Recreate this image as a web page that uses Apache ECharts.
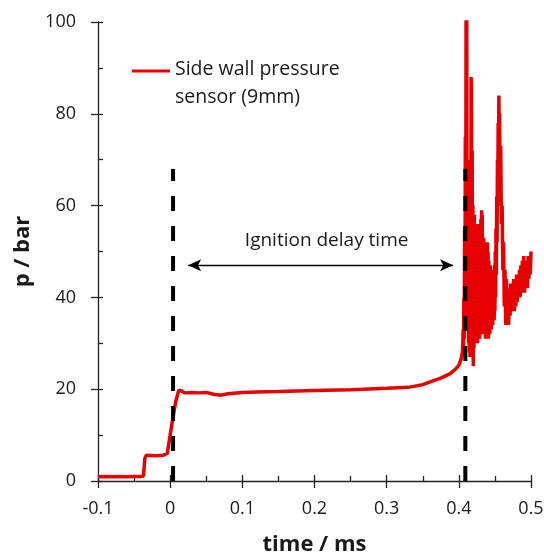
<!DOCTYPE html>
<html>
<head>
<meta charset="utf-8">
<script src="https://cdn.jsdelivr.net/npm/echarts@6/dist/echarts.min.js"></script>
<style>
  html, body { margin: 0; padding: 0; background: #fff; }
  #chart { width: 544px; height: 555px; }
</style>
</head>
<body>
<div id="chart"></div>
<script>
// time in ms, pressure in bar — before ignition
const timeMs = [
  -0.1, -0.09, -0.08, -0.07, -0.06, -0.05, -0.04, -0.037, -0.035, -0.033, -0.02, -0.01, -0.004,
  0.0, 0.004, 0.008, 0.012, 0.016, 0.02, 0.03, 0.04, 0.05, 0.06, 0.07, 0.08, 0.1, 0.12, 0.15,
  0.2, 0.25, 0.3, 0.33, 0.35, 0.364, 0.375, 0.388, 0.395, 0.4, 0.403
];
const pressureBar = [
  0.9, 1.0, 0.9, 1.0, 0.9, 1.0, 1.0, 1.1, 5.0, 5.6, 5.5, 5.6, 6.0,
  10, 14, 17.5, 19.8, 19.6, 19.2, 19.3, 19.2, 19.3, 18.9, 18.7, 19.0, 19.3, 19.4, 19.5,
  19.7, 19.9, 20.2, 20.4, 21.0, 21.8, 22.4, 23.4, 24.3, 25.2, 26.5
];
// ignition burst: [time ms, pressure bar]
const burstSamples = [
  [0.4050, 28], [0.4055, 30], [0.4060, 33], [0.4065, 29], [0.4070, 40], [0.4075, 31],
  [0.4080, 55], [0.4085, 34], [0.4090, 75], [0.4095, 36], [0.4100, 101], [0.4105, 45],
  [0.4110, 101], [0.4115, 38], [0.4120, 70], [0.4125, 33], [0.4130, 62], [0.4135, 30],
  [0.4140, 57], [0.4145, 28], [0.4150, 60], [0.4155, 27], [0.4160, 60], [0.4165, 30],
  [0.4170, 88], [0.4175, 86], [0.4180, 33], [0.4185, 72], [0.4190, 28], [0.4195, 60],
  [0.4200, 25], [0.4205, 55], [0.4210, 29], [0.4215, 58], [0.4220, 31], [0.4225, 52],
  [0.4230, 30], [0.4235, 55], [0.4240, 33], [0.4245, 50], [0.4250, 31], [0.4255, 53],
  [0.4260, 30], [0.4265, 56], [0.4270, 32], [0.4275, 54], [0.4280, 34], [0.4285, 49],
  [0.4290, 31], [0.4295, 52], [0.4300, 33], [0.4305, 57], [0.4310, 32], [0.4315, 59],
  [0.4320, 34], [0.4325, 58], [0.4330, 33], [0.4335, 51], [0.4340, 35], [0.4345, 53],
  [0.4350, 32], [0.4355, 49], [0.4360, 34], [0.4365, 52], [0.4370, 31], [0.4375, 50],
  [0.4380, 33], [0.4385, 47], [0.4390, 32], [0.4395, 52], [0.4400, 34], [0.4405, 50],
  [0.4410, 31], [0.4415, 48], [0.4420, 33], [0.4425, 46], [0.4430, 32], [0.4435, 47],
  [0.4440, 34], [0.4445, 45], [0.4450, 33], [0.4455, 46], [0.4460, 35], [0.4465, 44],
  [0.4470, 34], [0.4475, 46], [0.4480, 36], [0.4485, 45], [0.4490, 35], [0.4495, 47],
  [0.4500, 37], [0.4505, 50], [0.4510, 40], [0.4515, 55], [0.4520, 45], [0.4525, 62],
  [0.4530, 52], [0.4535, 70], [0.4540, 60], [0.4545, 78], [0.4550, 70], [0.4555, 84],
  [0.4560, 76], [0.4565, 80], [0.457, 66], [0.458, 73], [0.459, 56], [0.460, 60],
  [0.461, 46], [0.462, 52], [0.463, 38], [0.464, 46], [0.465, 34], [0.466, 44],
  [0.467, 36], [0.468, 41], [0.469, 34], [0.470, 42], [0.471, 36], [0.472, 43],
  [0.473, 37], [0.474, 41], [0.475, 38], [0.476, 44], [0.477, 37], [0.478, 43],
  [0.479, 38], [0.480, 45], [0.481, 39], [0.482, 44], [0.483, 40], [0.484, 46],
  [0.485, 40], [0.486, 47], [0.487, 41], [0.488, 48], [0.489, 42], [0.490, 49],
  [0.491, 41], [0.492, 46], [0.493, 43], [0.494, 48], [0.495, 42], [0.496, 49],
  [0.497, 44], [0.498, 48], [0.499, 45], [0.500, 50]
];
const seriesName = 'Side wall pressure sensor (9mm)';

// ignition markers (dashed lines) and delay arrow
const markerTimes = [0.004, 0.409];
const markerTop = 68;
const arrowFrom = 0.025;
const arrowTo = 0.392;
const arrowLevel = 47;

const xTicks = { min: -0.1, max: 0.5, interval: 0.1 };
const yTicks = { min: 0, max: 100, interval: 20 };

const font = '"Open Sans", "Noto Sans", sans-serif';
const ink = '#1a1a1a';
const axisInk = '#222';

const chart = echarts.init(document.getElementById('chart'));

const curve = timeMs.map((t, i) => [t, pressureBar[i]]).concat(burstSamples);

const markerSeries = markerTimes.map((t) => ({
  type: 'line',
  name: 'marker',
  data: [[t, 0], [t, markerTop]],
  symbol: 'none',
  silent: true,
  z: 3,
  lineStyle: { color: '#000', width: 4, type: [15, 15] },
}));

const tickStyle = { color: axisInk, width: 1.3 };

chart.setOption({
  animation: false,
  grid: { left: 98, right: 13, top: 22, bottom: 74, outerBoundsMode: 'none', containLabel: false },
  legend: {
    data: [seriesName],
    left: 127,
    top: 50,
    // line at the top of a tall box so it lines up with the first text line
    icon: 'path://M0,0L38,0L38,3L0,3Z M0,27L0.01,27L0.01,27.01Z',
    itemWidth: 38,
    itemHeight: 30,
    itemGap: 0,
    formatter: () => 'Side wall pressure\nsensor (9mm)',
    textStyle: {
      fontFamily: font,
      fontSize: 19.5,
      color: ink,
      lineHeight: 28,
    },
  },
  xAxis: [
    {
      type: 'value',
      min: xTicks.min,
      max: xTicks.max,
      interval: xTicks.interval,
      position: 'bottom',
      name: 'time / ms',
      nameLocation: 'middle',
      nameGap: 53,
      nameTextStyle: { fontFamily: font, fontSize: 22, fontWeight: 'bold', color: ink },
      axisLine: { onZero: false, lineStyle: { color: axisInk, width: 1.3 } },
      axisTick: { show: true, inside: false, length: 7, lineStyle: tickStyle },
      axisLabel: { fontFamily: font, fontSize: 18, color: ink, margin: 19 },
      splitLine: { show: false },
    },
    {
      type: 'value',
      min: xTicks.min,
      max: xTicks.max,
      interval: xTicks.interval,
      position: 'bottom',
      axisLine: { show: false, onZero: false },
      axisTick: { show: true, inside: true, length: 6, lineStyle: tickStyle },
      minorTick: { show: true, splitNumber: 2, length: 5, lineStyle: tickStyle },
      axisLabel: { show: false },
      splitLine: { show: false },
    },
  ],
  yAxis: [
    {
      type: 'value',
      min: yTicks.min,
      max: yTicks.max,
      interval: yTicks.interval,
      position: 'left',
      name: 'p / bar',
      nameLocation: 'middle',
      nameGap: 58,
      nameTextStyle: { fontFamily: font, fontSize: 22, fontWeight: 'bold', color: ink },
      axisLine: { show: true, onZero: false, lineStyle: { color: axisInk, width: 1.3 } },
      axisTick: { show: true, inside: false, length: 7, lineStyle: tickStyle },
      axisLabel: { fontFamily: font, fontSize: 18, color: ink, margin: 22 },
      splitLine: { show: false },
    },
    {
      type: 'value',
      min: yTicks.min,
      max: yTicks.max,
      interval: yTicks.interval,
      position: 'left',
      axisLine: { show: false, onZero: false },
      axisTick: { show: true, inside: true, length: 5, lineStyle: tickStyle },
      minorTick: { show: true, splitNumber: 2, length: 5, lineStyle: tickStyle },
      axisLabel: { show: false },
      splitLine: { show: false },
    },
  ],
  series: [
    {
      type: 'line',
      name: seriesName,
      data: curve,
      symbol: 'none',
      z: 2,
      itemStyle: { color: '#e60000' },
      lineStyle: { color: '#e60000', width: 3.5 },
    },
    ...markerSeries,
    {
      type: 'line',
      name: 'delay',
      data: [],
      silent: true,
      markLine: {
        silent: true,
        symbol: ['arrow', 'arrow'],
        symbolSize: [9, 13],
        lineStyle: { color: '#000', width: 1.4, type: 'solid' },
        label: {
          show: true,
          position: 'middle',
          formatter: 'Ignition delay time',
          fontFamily: font,
          fontSize: 19,
          color: ink,
          distance: 15,
          padding: [0, 0, 0, 12],
        },
        data: [[{ coord: [arrowFrom, arrowLevel] }, { coord: [arrowTo, arrowLevel] }]],
      },
    },
  ],
});
</script>
</body>
</html>
